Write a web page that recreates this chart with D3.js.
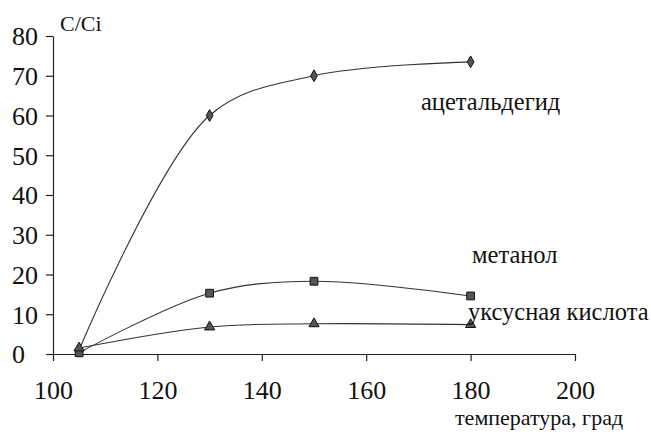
<!DOCTYPE html>
<html>
<head>
<meta charset="utf-8">
<script src="https://cdn.jsdelivr.net/npm/d3@7"></script>
<style>
  body { margin: 0; background: #fff; }
</style>
</head>
<body>
<div id="chart"></div>
<script>
// data
const temps = [105, 130, 150, 180];
const acetaldehyde = [1, 60, 70, 73.5];
const methanol = [0.3, 15.3, 18.3, 14.6];
const aceticAcid = [1.5, 6.8, 7.6, 7.4];
const xTicks = [100, 120, 140, 160, 180, 200];
const yTicks = [0, 10, 20, 30, 40, 50, 60, 70, 80];

const w = 651;
const h = 434;
const font = "'Liberation Serif', 'Times New Roman', serif";

const svg = d3.select("#chart").append("svg")
  .attr("width", w)
  .attr("height", h)
  .attr("font-family", font);

// scales
const x = d3.scaleLinear().domain([100, 200]).range([53, 575]);
const y = d3.scaleLinear().domain([0, 80]).range([354, 36]);

// y axis
const yAxis = svg.append("g")
  .attr("transform", "translate(" + x(100) + ",0)")
  .call(d3.axisLeft(y).tickValues(yTicks).tickSize(7).tickSizeOuter(0))
  .attr("font-family", font);
yAxis.selectAll("path, line").attr("stroke", "#222").attr("stroke-width", 1.2);
yAxis.selectAll("text")
  .attr("text-anchor", "start")
  .attr("x", 12 - x(100))
  .attr("dy", "0.34em")
  .attr("fill", "#111")
  .style("font-family", font)
  .style("font-size", "26px");

// x axis
const xAxis = svg.append("g")
  .attr("transform", "translate(0," + y(0) + ")")
  .call(d3.axisBottom(x).tickValues(xTicks).tickSize(7).tickSizeOuter(0))
  .attr("font-family", font);
xAxis.selectAll("path, line").attr("stroke", "#222").attr("stroke-width", 1.2);
xAxis.selectAll("text")
  .attr("dy", null)
  .attr("y", 45)
  .attr("fill", "#111")
  .style("font-family", font)
  .style("font-size", "26px");

// series
const series = [
  { name: "ацетальдегид", values: acetaldehyde, marker: "diamond", lx: 421, ly: 110 },
  { name: "метанол", values: methanol, marker: "square", lx: 472, ly: 263 },
  { name: "уксусная кислота", values: aceticAcid, marker: "triangle", lx: 468, ly: 320 },
];

const line = d3.line()
  .x((d) => x(d[0]))
  .y((d) => y(d[1]))
  .curve(d3.curveCatmullRom.alpha(0.5));

const symbols = {
  diamond: d3.symbol().type(d3.symbolDiamond).size(40),
  square: d3.symbol().type(d3.symbolSquare).size(60),
  triangle: d3.symbol().type(d3.symbolTriangle).size(45),
};

series.forEach((s) => {
  const pts = temps.map((t, i) => [t, s.values[i]]);

  svg.append("path")
    .datum(pts)
    .attr("d", line)
    .attr("fill", "none")
    .attr("stroke", "#333")
    .attr("stroke-width", 1.1);

  svg.selectAll(".m-" + s.marker)
    .data(pts)
    .enter()
    .append("path")
    .attr("class", "m-" + s.marker)
    .attr("transform", (d) => "translate(" + x(d[0]) + "," + y(d[1]) + ")")
    .attr("d", symbols[s.marker])
    .attr("fill", "#555")
    .attr("stroke", "#111")
    .attr("stroke-width", 1);

  svg.append("text")
    .attr("x", s.lx)
    .attr("y", s.ly)
    .attr("fill", "#111")
    .style("font-family", font)
    .style("font-size", "24.5px")
    .text(s.name);
});

// axis titles
svg.append("text")
  .attr("x", 60)
  .attr("y", 31)
  .attr("fill", "#111")
  .style("font-family", font)
  .style("font-size", "22px")
  .text("C/Ci");

svg.append("text")
  .attr("x", 455)
  .attr("y", 425)
  .attr("fill", "#111")
  .style("font-family", font)
  .style("font-size", "22px")
  .text("температура, град");
</script>
</body>
</html>
